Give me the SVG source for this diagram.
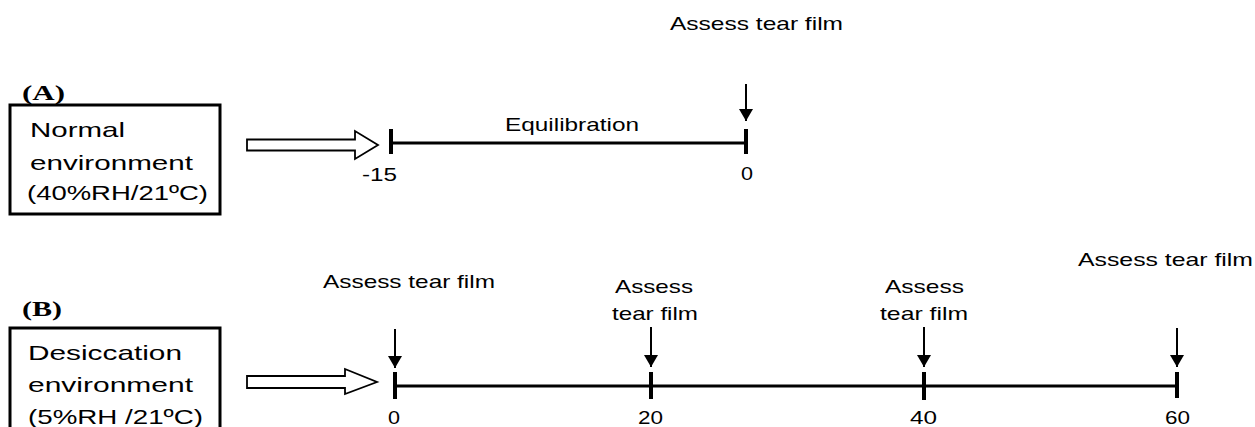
<svg xmlns="http://www.w3.org/2000/svg" width="1255" height="427" viewBox="0 0 1255 427">
  <style>
    .box { fill: #fff; stroke: #000; stroke-width: 3; }
    .t { font-family: "Liberation Sans", Arial, sans-serif; fill: #000; }
    .bt { font-size: 21px; }
    .lbl { font-size: 18.5px; }
    .num { font-size: 18px; }
    .pan { font-family: "Liberation Serif", "Times New Roman", serif; font-weight: bold; font-size: 22px; fill: #000; }
    .hollow { fill: #fff; stroke: #000; stroke-width: 1.8; stroke-linejoin: miter; }
    .axis { stroke: #000; stroke-width: 3; fill: none; }
    .tick { stroke: #000; stroke-width: 4; fill: none; }
    .down { stroke: #000; stroke-width: 2; fill: none; marker-end: url(#head); }
  </style>
  <defs>
    <marker id="head" viewBox="0 0 12 14" refX="12" refY="7" markerWidth="12" markerHeight="14" markerUnits="userSpaceOnUse" orient="auto">
      <path d="M0,0 L12,7 L0,14 z" fill="#000"/>
    </marker>
  </defs>
  <rect width="1255" height="427" fill="#fff"/>

  <!-- Panel A -->
  <g id="labelA">
    <text class="pan" x="22" y="100" textLength="43" lengthAdjust="spacingAndGlyphs">(A)</text>
  </g>
  <g id="boxA">
    <rect class="box" x="10" y="105" width="210" height="109"/>
    <text class="t bt" x="30" y="136.5" textLength="95" lengthAdjust="spacingAndGlyphs">Normal</text>
    <text class="t bt" x="30" y="170" textLength="163" lengthAdjust="spacingAndGlyphs">environment</text>
    <text class="t bt" x="27" y="200" textLength="181" lengthAdjust="spacingAndGlyphs">(40%RH/21ºC)</text>
  </g>
  <g id="timelineA-labels">
    <text class="t lbl" x="505" y="131" textLength="134" lengthAdjust="spacingAndGlyphs">Equilibration</text>
    <text class="t lbl" x="670" y="30" textLength="173" lengthAdjust="spacingAndGlyphs">Assess tear film</text>
    <text class="t num" x="362" y="181" textLength="35" lengthAdjust="spacingAndGlyphs">-15</text>
    <text class="t num" x="741" y="180" textLength="12" lengthAdjust="spacingAndGlyphs">0</text>
  </g>

  <!-- Panel B -->
  <g id="labelB">
    <text class="pan" x="22" y="316" textLength="40" lengthAdjust="spacingAndGlyphs">(B)</text>
  </g>
  <g id="boxB">
    <rect class="box" x="10" y="328" width="210" height="120"/>
    <text class="t bt" x="28" y="360" textLength="154" lengthAdjust="spacingAndGlyphs">Desiccation</text>
    <text class="t bt" x="28" y="391.5" textLength="165" lengthAdjust="spacingAndGlyphs">environment</text>
    <text class="t bt" x="28" y="424" textLength="175" lengthAdjust="spacingAndGlyphs">(5%RH /21ºC)</text>
  </g>
  <g id="timelineB-labels">
    <text class="t lbl" x="323" y="288" textLength="172" lengthAdjust="spacingAndGlyphs">Assess tear film</text>
    <text class="t lbl" x="615" y="293" textLength="78" lengthAdjust="spacingAndGlyphs">Assess</text>
    <text class="t lbl" x="612" y="320" textLength="86" lengthAdjust="spacingAndGlyphs">tear film</text>
    <text class="t lbl" x="885" y="293" textLength="79" lengthAdjust="spacingAndGlyphs">Assess</text>
    <text class="t lbl" x="880" y="320" textLength="88" lengthAdjust="spacingAndGlyphs">tear film</text>
    <text class="t lbl" x="1078" y="266" textLength="175" lengthAdjust="spacingAndGlyphs">Assess tear film</text>
    <text class="t num" x="388" y="424" textLength="12" lengthAdjust="spacingAndGlyphs">0</text>
    <text class="t num" x="638" y="424" textLength="25" lengthAdjust="spacingAndGlyphs">20</text>
    <text class="t num" x="910" y="424" textLength="27" lengthAdjust="spacingAndGlyphs">40</text>
    <text class="t num" x="1165" y="424" textLength="25" lengthAdjust="spacingAndGlyphs">60</text>
  </g>

  <!-- Connectors -->
  <g id="connectors">
    <polygon class="hollow" points="247,139.5 355,139.5 355,131 378,145 355,159 355,150.5 247,150.5"/>
    <line class="axis" x1="391" y1="143" x2="746" y2="143"/>
    <line class="tick" x1="391" y1="129" x2="391" y2="154"/>
    <line class="tick" x1="746" y1="129" x2="746" y2="154"/>
    <line class="down" x1="746" y1="84" x2="746" y2="121"/>

    <polygon class="hollow" points="247,376 345,376 345,369 377,382 345,394 345,388 247,388"/>
    <line class="axis" x1="395" y1="386" x2="1177" y2="386"/>
    <line class="tick" x1="395" y1="372" x2="395" y2="399"/>
    <line class="tick" x1="651" y1="372" x2="651" y2="399"/>
    <line class="tick" x1="924" y1="372" x2="924" y2="400"/>
    <line class="tick" x1="1177" y1="372" x2="1177" y2="398"/>
    <line class="down" x1="395" y1="329" x2="395" y2="368"/>
    <line class="down" x1="651" y1="327" x2="651" y2="367"/>
    <line class="down" x1="924" y1="327" x2="924" y2="367"/>
    <line class="down" x1="1177" y1="328" x2="1177" y2="367"/>
  </g>
</svg>
